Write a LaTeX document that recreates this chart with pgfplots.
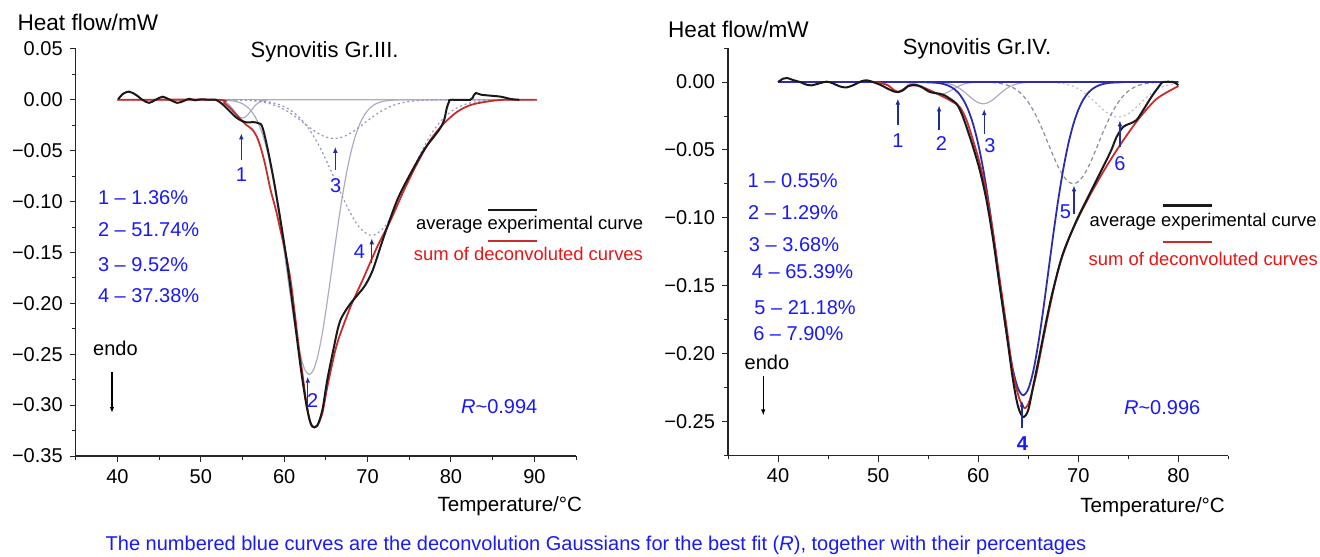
\documentclass[border=0pt]{standalone}
\usepackage{fontspec}
\setmainfont{Liberation Sans}
\usepackage{pgfplots}
\pgfplotsset{compat=1.18}
\usetikzlibrary{arrows.meta}
\newcommand{\fs}[1]{\fontsize{#1}{#1}\selectfont}
\definecolor{labblue}{RGB}{25,25,250}
\definecolor{arrblue}{RGB}{35,45,150}
\definecolor{compgray}{RGB}{172,172,198}
\definecolor{dotgray}{RGB}{150,150,190}
\definecolor{dashgray}{RGB}{140,140,160}
\definecolor{lightdot}{RGB}{190,190,205}
\definecolor{darkblue}{RGB}{45,45,170}
\definecolor{sumred}{RGB}{200,45,45}
\definecolor{txtred}{RGB}{235,20,20}
\definecolor{expblack}{RGB}{25,25,25}
\definecolor{baselav}{RGB}{180,160,205}
\pgfplotsset{dsc/.style={
  scale only axis, width=250.2pt, height=203.8pt,
  axis x line*=bottom, axis y line*=left,
  axis line style={line width=0.6pt, black!85},
  tick align=outside, tick style={line width=0.5pt, black!85},
  major tick length=3pt, minor tick length=1.8pt,
  clip=false, anchor=south west,
  tick label style={font=\fs{10}},
  /pgf/number format/assume math mode=true,
}}
\begin{document}
\begin{tikzpicture}
\useasboundingbox (0,0) rectangle (660pt,278pt);
% ================= LEFT PANEL =================
\begin{axis}[dsc, at={(37.85pt,50pt)},
  xmin=35, xmax=95, ymin=-0.35, ymax=0.0505,
  xtick={40,50,60,70,80,90}, minor xtick={35,45,55,65,75,85,95},
  ytick={-0.35,-0.3,-0.25,-0.2,-0.15,-0.1,-0.05,0,0.05},
  yticklabels={−0.35,−0.30,−0.25,−0.20,−0.15,−0.10,−0.05,0.00,0.05},
  minor ytick={-0.325,-0.275,-0.225,-0.175,-0.125,-0.075,-0.025,0.025}]
\addplot[baselav, line width=0.6pt] coordinates {(40,0) (90,0)};
% component 1
\addplot[compgray, line width=0.6pt, smooth] table {
40 0
51.5 0
52 -0.0002
52.5 -0.0008
53 -0.0024
53.5 -0.0058
54 -0.0109
54.5 -0.0159
55 -0.018
55.5 -0.0159
56 -0.0109
56.5 -0.0058
57 -0.0024
57.5 -0.0008
58 -0.0002
58.5 0
90 0
};
% component 2
\addplot[compgray, line width=0.6pt, smooth] table {
40 0
52 -0.0001
53 -0.0004
54 -0.0013
54.5 -0.0023
55 -0.0039
55.5 -0.0066
56 -0.0106
56.5 -0.0165
57 -0.0250
57.5 -0.0365
58 -0.0517
58.5 -0.0708
59 -0.0937
59.5 -0.1201
60 -0.1489
60.5 -0.1786
61 -0.2072
61.5 -0.2327
62 -0.2527
62.5 -0.2656
63 -0.27
63.5 -0.2656
64 -0.2527
64.5 -0.2327
65 -0.2072
65.5 -0.1786
66 -0.1489
66.5 -0.1201
67 -0.0937
67.5 -0.0708
68 -0.0517
68.5 -0.0365
69 -0.0250
69.5 -0.0165
70 -0.0106
70.5 -0.0066
71 -0.0039
71.5 -0.0023
72 -0.0013
73 -0.0004
74 -0.0001
90 0
};
% component 3
\addplot[dotgray, line width=0.6pt, smooth, dash pattern=on 1pt off 1.4pt] table {
40 0
53 0
54 -0.0001
55 -0.0004
56 -0.0008
57 -0.0017
58 -0.0032
59 -0.0057
60 -0.0095
61 -0.0145
62 -0.0205
63 -0.0269
64 -0.0326
65 -0.0366
66 -0.038
67 -0.0366
68 -0.0326
69 -0.0269
70 -0.0205
71 -0.0145
72 -0.0095
73 -0.0057
74 -0.0032
75 -0.0017
76 -0.0008
77 -0.0004
78 -0.0001
79 0
90 0
};
% component 4
\addplot[dotgray, line width=0.6pt, smooth, dash pattern=on 1pt off 1.4pt] table {
40 0
53 0
54 -0.0001
55 -0.0002
56 -0.0005
57 -0.0010
58 -0.0019
59 -0.0037
60 -0.0067
61 -0.0116
62 -0.0188
63 -0.0291
64 -0.0424
65 -0.0587
66 -0.0769
67 -0.0955
68 -0.1123
69 -0.1252
70 -0.1321
70.5 -0.133
71 -0.1321
72 -0.1252
73 -0.1123
74 -0.0955
75 -0.0769
76 -0.0587
77 -0.0424
78 -0.0291
79 -0.0188
80 -0.0116
81 -0.0067
82 -0.0037
83 -0.0019
84 -0.0010
85 -0.0005
86 -0.0002
87 -0.0001
88 0
90 0
};
% sum of deconvoluted curves
\addplot[sumred, line width=0.9pt, smooth] table {
40 0
52.0 0
52.8 -0.003
53.5 -0.008
54.2 -0.014
54.75 -0.019
55.5 -0.025
56.15 -0.029
56.7 -0.036
57.15 -0.046
57.7 -0.063
58.35 -0.088
59.0 -0.108
59.55 -0.128
60.2 -0.152
60.76 -0.177
61.3 -0.212
61.75 -0.243
62.2 -0.270
62.56 -0.292
63.0 -0.313
63.4 -0.321
63.9 -0.321
64.57 -0.308
65.17 -0.282
65.96 -0.252
66.37 -0.239
66.77 -0.229
67.97 -0.203
69.57 -0.174
71.18 -0.144
72.78 -0.118
74.38 -0.0885
75.98 -0.062
77.58 -0.039
79.18 -0.023
80.8 -0.0115
82.4 -0.005
84.4 -0.0017
86.4 0
90.3 0
};
% average experimental curve
\addplot[expblack, line width=1pt, smooth] table {
40.1 0.0007
40.7 0.006
41.4 0.008
42.2 0.005
43.0 0.000
43.8 -0.003
44.6 0.000
45.4 0.003
46.3 0.000
47.2 -0.003
48.0 -0.001
48.6 0.001
49.3 -0.0005
50.0 0.0005
51.0 0.0
51.8 0.0
52.7 -0.005
53.5 -0.0115
54.35 -0.018
55.35 -0.022
56.35 -0.022
56.9 -0.023
57.35 -0.026
57.96 -0.046
58.75 -0.079
59.55 -0.118
60.36 -0.161
61.15 -0.210
61.96 -0.262
62.56 -0.295
63.0 -0.313
63.37 -0.321
63.97 -0.320
64.57 -0.305
65.17 -0.275
65.96 -0.243
66.4 -0.226
66.77 -0.216
67.3 -0.208
67.97 -0.200
68.77 -0.192
69.57 -0.184
70.2 -0.175
70.77 -0.164
71.97 -0.134
73.58 -0.098
75.18 -0.072
76.78 -0.049
77.98 -0.036
78.7 -0.028
79.18 -0.020
79.5 -0.008
79.78 -0.0017
80.0 0
82.3 0
82.7 0.004
83.0 0.0066
83.6 0.005
84.8 0.004
86.0 0.003
87.2 0.0007
88.2 0
};
% annotations
\node[anchor=west, font=\fs{11.3}] at (axis cs:27.18,0.0763) {Heat flow/mW};
\node[font=\fs{11}] at (axis cs:64.84,0.0469) {Synovitis Gr.III.};
\node[anchor=east, font=\fs{10.3}] at (axis cs:96.56,-0.399) {Temperature/°C};
\begin{scope}[labblue, font=\fs{10}]
\node[anchor=west] at (axis cs:36.83,-0.0959) {1 – 1.36\%};
\node[anchor=west] at (axis cs:36.83,-0.128) {2 – 51.74\%};
\node[anchor=west] at (axis cs:36.83,-0.1624) {3 – 9.52\%};
\node[anchor=west] at (axis cs:36.83,-0.1928) {4 – 37.38\%};
\node[anchor=west] at (axis cs:80.37,-0.3019) {\textit{R}\textasciitilde 0.994};
\node at (axis cs:54.86,-0.0733) {1};
\node at (axis cs:66.16,-0.0848) {3};
\node at (axis cs:69.01,-0.1493) {4};
\node at (axis cs:63.42,-0.295) {2};
\end{scope}
\begin{scope}[arrblue, line width=0.7pt, -{Latex[length=3pt,width=2.4pt]}]
\draw (axis cs:54.86,-0.0592) -- (axis cs:54.86,-0.033);
\draw (axis cs:66.13,-0.0691) -- (axis cs:66.13,-0.0462);
\draw (axis cs:70.5,-0.1607) -- (axis cs:70.5,-0.1361);
\draw (axis cs:62.82,-0.300) -- (axis cs:62.82,-0.2721);
\end{scope}
\node[font=\fs{10}] at (axis cs:39.77,-0.2439) {endo};
\draw[black, line width=0.6pt, -{Latex[length=3pt,width=2.2pt]}] (axis cs:39.35,-0.2675) -- (axis cs:39.35,-0.3078);
\draw[expblack, line width=1.1pt] (axis cs:84.48,-0.1083) -- (axis cs:90.29,-0.1083);
\node[anchor=west, font=\fs{9.2}] at (axis cs:74.97,-0.1231) {average experimental curve};
\draw[sumred, line width=1.1pt] (axis cs:84.48,-0.1385) -- (axis cs:90.29,-0.1385);
\node[anchor=west, font=\fs{9.2}, txtred] at (axis cs:74.70,-0.1516) {sum of deconvoluted curves};
\end{axis}
% ================= RIGHT PANEL =================
\begin{axis}[dsc, at={(364pt,50.15pt)},
  xmin=35, xmax=85, ymin=-0.275, ymax=0.025,
  xtick={40,50,60,70,80}, minor xtick={35,45,55,65,75,85},
  ytick={-0.25,-0.2,-0.15,-0.1,-0.05,0},
  yticklabels={−0.25,−0.20,−0.15,−0.10,−0.05,0.00},
  minor ytick={-0.275,-0.225,-0.175,-0.125,-0.075,-0.025,0.025}]
% component 1
\addplot[compgray, line width=0.6pt, smooth] table {
40 0
50 0
50.5 -0.0005
51 -0.0021
51.5 -0.0052
52 -0.007
52.5 -0.0052
53 -0.0021
53.5 -0.0005
54 0
80 0
};
% component 2
\addplot[compgray, line width=0.6pt, smooth] table {
40 0
51.7 0
52.2 -0.0001
52.7 -0.0002
53.2 -0.0005
53.7 -0.0012
54.2 -0.0025
54.7 -0.0044
55.2 -0.0065
55.7 -0.0083
56.2 -0.009
56.7 -0.0083
57.2 -0.0065
57.7 -0.0044
58.2 -0.0025
58.7 -0.0012
59.2 -0.0005
59.7 -0.0002
60.2 -0.0001
61 0
80 0
};
% component 3
\addplot[compgray, line width=0.6pt, smooth] table {
40 0
55 0
55.5 -0.0001
56 -0.0002
56.5 -0.0005
57 -0.0011
57.5 -0.0022
58 -0.0040
58.5 -0.0066
59 -0.0097
59.5 -0.0128
60 -0.0151
60.5 -0.016
61 -0.0151
61.5 -0.0128
62 -0.0097
62.5 -0.0066
63 -0.0040
63.5 -0.0022
64 -0.0011
64.5 -0.0005
65 -0.0002
65.5 -0.0001
66 0
80 0
};
% component 6
\addplot[lightdot, line width=0.6pt, smooth, dash pattern=on 1pt off 1.4pt] table {
40 0
66 0
67 -0.0002
68 -0.0006
69 -0.0020
69.5 -0.0032
70 -0.0049
70.5 -0.0073
71 -0.0102
71.5 -0.0135
72 -0.0171
72.5 -0.0204
73 -0.0233
73.5 -0.0251
74 -0.0258
74.5 -0.0251
75 -0.0233
75.5 -0.0204
76 -0.0171
76.5 -0.0135
77 -0.0102
77.5 -0.0073
78 -0.0049
78.5 -0.0032
79 -0.0020
80 -0.0006
};
% component 5
\addplot[dashgray, line width=0.6pt, smooth, dash pattern=on 2pt off 1.5pt] table {
40 0
60 0
60.5 -0.0001
61.5 -0.0004
62 -0.0008
62.5 -0.0015
63 -0.0025
63.5 -0.0042
64 -0.0066
64.5 -0.0101
65 -0.0148
65.5 -0.0208
66 -0.0281
66.5 -0.0364
67 -0.0454
67.5 -0.0543
68 -0.0625
68.5 -0.0690
69 -0.0733
69.5 -0.0748
70 -0.0733
70.5 -0.0690
71 -0.0625
71.5 -0.0543
72 -0.0454
72.5 -0.0364
73 -0.0281
73.5 -0.0208
74 -0.0148
74.5 -0.0101
75 -0.0066
75.5 -0.0042
76 -0.0025
76.5 -0.0015
77 -0.0008
77.5 -0.0004
78.5 -0.0001
80 0
};
% baseline and component 4
\addplot[darkblue, line width=0.8pt] coordinates {(40,0) (80,0)};
\addplot[darkblue, line width=0.9pt, smooth] table {
40 0
54 0
54.5 -0.0001
55.5 -0.0004
56 -0.0007
56.5 -0.0014
57 -0.0026
57.5 -0.0046
58 -0.0078
58.5 -0.0129
59 -0.0205
59.5 -0.0312
60 -0.0456
60.5 -0.0641
61 -0.0865
61.5 -0.1122
62 -0.1398
62.5 -0.1674
63 -0.1925
63.5 -0.2128
64 -0.2259
64.5 -0.2305
65 -0.2259
65.5 -0.2128
66 -0.1925
66.5 -0.1674
67 -0.1398
67.5 -0.1122
68 -0.0865
68.5 -0.0641
69 -0.0456
69.5 -0.0312
70 -0.0205
70.5 -0.0129
71 -0.0078
71.5 -0.0046
72 -0.0026
72.5 -0.0014
73 -0.0007
73.5 -0.0004
74.5 -0.0001
75 0
80 0
};
% sum of deconvoluted curves
\addplot[sumred, line width=0.9pt, smooth] table {
49.5 0
50.0 -0.0002
51.0 -0.0025
51.5 -0.0055
52.0 -0.0072
52.5 -0.0055
53.0 -0.003
53.84 -0.0025
54.5 -0.004
55.17 -0.006
56.16 -0.0096
57.16 -0.0134
58.16 -0.0184
58.83 -0.028
59.49 -0.043
60.16 -0.060
60.83 -0.082
61.49 -0.111
62.16 -0.146
62.83 -0.180
63.49 -0.215
64.16 -0.234
64.66 -0.240
65.15 -0.234
65.82 -0.2146
66.48 -0.190
67.15 -0.1656
68.15 -0.134
69.48 -0.108
71.15 -0.0835
72.82 -0.062
74.48 -0.043
76.15 -0.026
77.81 -0.0125
79.47 -0.005
80.0 -0.003
};
% average experimental curve
\addplot[expblack, line width=1pt, smooth] table {
40.0 0
40.5 0.0025
40.9 0.003
41.5 0.0015
42.2 0
42.8 -0.0018
43.35 -0.0024
44.1 -0.001
44.85 0.0003
45.5 -0.001
46.1 -0.003
46.8 -0.004
47.6 -0.002
48.3 0.0005
48.85 0.0013
49.5 0.0
50.2 -0.002
51.0 -0.005
51.6 -0.007
52.0 -0.0074
52.5 -0.006
53.0 -0.003
53.6 -0.002
54.3 -0.0035
55.17 -0.0073
56.16 -0.0086
56.7 -0.010
57.16 -0.0122
57.83 -0.0159
58.33 -0.023
58.83 -0.033
59.49 -0.048
60.16 -0.065
60.83 -0.087
61.49 -0.116
62.16 -0.151
62.83 -0.185
63.49 -0.220
63.99 -0.239
64.49 -0.2465
64.99 -0.2416
65.48 -0.2244
66.15 -0.200
66.82 -0.175
67.48 -0.153
68.48 -0.126
69.82 -0.102
71.15 -0.082
72.48 -0.0625
73.3 -0.050
73.82 -0.0405
74.48 -0.033
75.15 -0.0306
75.81 -0.028
76.47 -0.0208
77.3 -0.011
78.14 -0.0024
78.47 0
79.5 0
80.0 -0.0024
};
% annotations
\node[anchor=west, font=\fs{11.3}] at (axis cs:28.31,0.0388) {Heat flow/mW};
\node[font=\fs{11}] at (axis cs:59.88,0.0248) {Synovitis Gr.IV.};
\node[anchor=east, font=\fs{10.3}] at (axis cs:85.35,-0.3132) {Temperature/°C};
\begin{scope}[labblue, font=\fs{10}]
\node[anchor=west] at (axis cs:36.26,-0.0724) {1 – 0.55\%};
\node[anchor=west] at (axis cs:36.30,-0.0960) {2 – 1.29\%};
\node[anchor=west] at (axis cs:36.39,-0.1195) {3 – 3.68\%};
\node[anchor=west] at (axis cs:36.69,-0.1394) {4 – 65.39\%};
\node[anchor=west] at (axis cs:36.94,-0.1659) {5 – 21.18\%};
\node[anchor=west] at (axis cs:36.82,-0.1851) {6 – 7.90\%};
\node[anchor=west] at (axis cs:73.87,-0.2395) {\textit{R}\textasciitilde 0.996};
\node at (axis cs:51.97,-0.0429) {1};
\node at (axis cs:56.33,-0.0454) {2};
\node at (axis cs:61.17,-0.0466) {3};
\node at (axis cs:68.72,-0.0957) {5};
\node at (axis cs:74.16,-0.0601) {6};
\node at (axis cs:64.42,-0.2658) {\textbf{4}};
\end{scope}
\begin{scope}[arrblue, line width=0.7pt, -{Latex[length=3pt,width=2.4pt]}]
\draw (axis cs:51.97,-0.0319) -- (axis cs:51.97,-0.0122);
\draw (axis cs:56.09,-0.0356) -- (axis cs:56.09,-0.0172);
\draw (axis cs:60.6,-0.0383) -- (axis cs:60.6,-0.0199);
\draw (axis cs:69.57,-0.0969) -- (axis cs:69.57,-0.0761);
\draw (axis cs:74.16,-0.0479) -- (axis cs:74.16,-0.0282);
\draw (axis cs:64.37,-0.2543) -- (axis cs:64.37,-0.2344);
\end{scope}
\node[font=\fs{10}] at (axis cs:38.89,-0.2064) {endo};
\draw[black, line width=0.6pt, -{Latex[length=3pt,width=2.2pt]}] (axis cs:38.52,-0.2167) -- (axis cs:38.52,-0.2454);
\draw[expblack, line width=1.1pt] (axis cs:78.49,-0.0908) -- (axis cs:83.32,-0.0908);
\node[anchor=west, font=\fs{9.2}] at (axis cs:70.43,-0.1031) {average experimental curve};
\draw[sumred, line width=1.1pt] (axis cs:78.49,-0.1178) -- (axis cs:83.32,-0.1178);
\node[anchor=west, font=\fs{9.2}, txtred] at (axis cs:70.33,-0.130) {sum of deconvoluted curves};
\end{axis}
\node[labblue, font=\fs{10}] at (298pt,5.5pt) {The numbered blue curves are the deconvolution Gaussians for the best fit (\textit{R}), together with their percentages};
\end{tikzpicture}
\end{document}
